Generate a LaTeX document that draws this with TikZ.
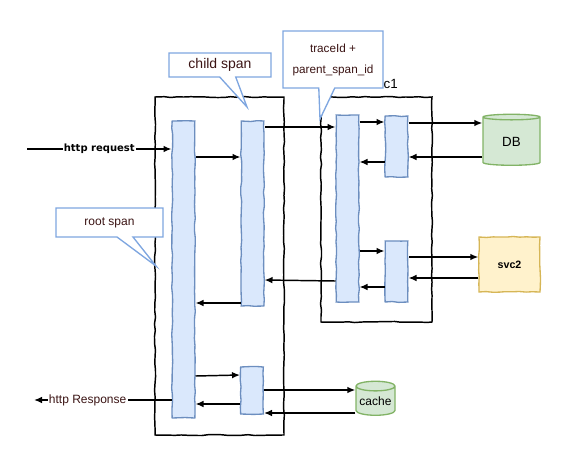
\documentclass[tikz,border=0pt]{standalone}
\usepackage{fontspec}
\setmainfont{Liberation Sans}
\newfontfamily\handfont{DejaVu Sans}
\usetikzlibrary{shapes.geometric, shapes.callouts, arrows.meta, decorations.pathmorphing}
\definecolor{spanfill}{HTML}{DAE8FC}
\definecolor{spanline}{HTML}{6C8EBF}
\definecolor{noteline}{HTML}{7EA6E0}
\definecolor{notetext}{HTML}{3B1414}
\definecolor{dbfill}{HTML}{D5E8D4}
\definecolor{dbline}{HTML}{82B366}
\definecolor{svcfill}{HTML}{FFF2CC}
\definecolor{svcline}{HTML}{D6B656}
\tikzstyle{every node}=[font=\fontsize{9}{11}\selectfont]
\tikzstyle{sketch} = [decorate, decoration={random steps, segment length=5pt, amplitude=0.4pt}]
\tikzstyle{frame} = [draw=black, line width=1.1pt, sketch]
\tikzstyle{span} = [rectangle, minimum width=17pt, inner sep=0pt, draw=spanline, fill=spanfill, line width=1pt, sketch]
\tikzstyle{note} = [rectangle callout, draw=noteline, fill=white, line width=1pt, text=notetext, inner sep=0pt, callout pointer width=12pt]
\tikzstyle{store} = [cylinder, shape border rotate=90, shape aspect=0.3, draw=dbline, fill=dbfill, line width=1pt, inner sep=0pt]
\tikzstyle{service} = [rectangle, draw=svcline, fill=svcfill, line width=1pt, sketch, font=\bfseries\fontsize{8}{10}\selectfont]
\tikzstyle{arrow} = [line width=1.1pt,->,>={Latex[length=6pt,width=5pt]}]
\tikzstyle{edge label} = [fill=white, inner sep=1pt]

\begin{document}
\pgfmathsetseed{7}
\begin{tikzpicture}[x=0.75pt, y=-0.75pt]
\useasboundingbox (0,0) rectangle (578,454);
% service frames
\draw [frame] (155,97) rectangle (284,435);
\draw [frame] (321,97) rectangle (432,322);

% spans
\node (root) [span, minimum height=222.75pt] at (183.5,269.5) {};
\node (child) [span, minimum height=138.75pt] at (252.5,213.5) {};
\node (cachecall) [span, minimum height=35.25pt] at (252,390.5) {};
\node (svcone) [span, minimum height=140.25pt] at (347.5,208.5) {};
\node (dbcall) [span, minimum height=45.75pt] at (396.5,146.5) {};
\node (svccall) [span, minimum height=45.75pt] at (396.5,271.5) {};

% backends
\node (db) [store, minimum width=42.75pt, minimum height=38.25pt, font=\fontsize{10}{12}\selectfont] at (511.5,141.5) {DB};
\node (svc) [service, minimum width=45.75pt, minimum height=41.25pt] at (509.5,264.5) {svc2};
\node (cache) [store, minimum width=29.25pt, minimum height=25.5pt] at (375.5,401) {cache};

% notes
\node (childnote) [note, minimum width=76.5pt, minimum height=18pt, font=\fontsize{10.5}{12}\selectfont, callout absolute pointer={(247,107)}] at (220,65) {child span};
\node (tracenote) [note, minimum width=75pt, minimum height=42.75pt, align=center, font=\fontsize{8.8}{15.75}\selectfont, callout absolute pointer={(320,119)}] at (333,59.5) {traceId +\\parent\_span\_id};
\node (rootnote) [note, minimum width=80.25pt, minimum height=21.75pt, callout absolute pointer={(156,266)}] at (109.5,222.5) {root span};
\node (svconelabel) [anchor=east, inner sep=0pt, font=\fontsize{10}{12}\selectfont] at (398,84) {c1};

% in and out
\coordinate (reqin) at (27,149);
\coordinate (respout) at (34,400);

\draw [arrow] (reqin) -- node [edge label, font=\handfont\bfseries\fontsize{7.5}{8}\selectfont] {http request} (root.west |- 0,149);
\draw [arrow] (root.east |- 0,157) -- (child.west |- 0,157);
\draw [arrow] (child.east |- 0,127) -- (svcone.west |- 0,127);
\draw [arrow] (svcone.east |- 0,122) -- (dbcall.west |- 0,122);
\draw [arrow] (dbcall.east |- 0,123) -- (db.west |- 0,123);
\draw [arrow] (db.west |- 0,157) -- (dbcall.east |- 0,157);
\draw [arrow] (dbcall.west |- 0,162) -- (svcone.east |- 0,162);
\draw [arrow] (svcone.east |- 0,251) -- (svccall.west |- 0,251);
\draw [arrow] (svccall.east |- 0,257) -- (svc.west |- 0,257);
\draw [arrow] (svc.west |- 0,278) -- (svccall.east |- 0,278);
\draw [arrow] (svccall.west |- 0,287) -- (svcone.east |- 0,287);
\draw [arrow] (svcone.west |- 0,281) -- (child.east |- 0,280);
\draw [arrow] (child.west |- 0,303) -- (root.east |- 0,303);
\draw [arrow] (root.east |- 0,376) -- (cachecall.west |- 0,375);
\draw [arrow] (cachecall.east |- 0,390) -- (cache.west |- 0,390);
\draw [arrow] (cache.west |- 0,413) -- (cachecall.east |- 0,413);
\draw [arrow] (cachecall.west |- 0,404) -- (root.east |- 0,404);
\draw [arrow] (root.west |- 0,400) -- node [edge label, pos=0.61, text=notetext] {http Response} (respout);
\end{tikzpicture}
\end{document}
